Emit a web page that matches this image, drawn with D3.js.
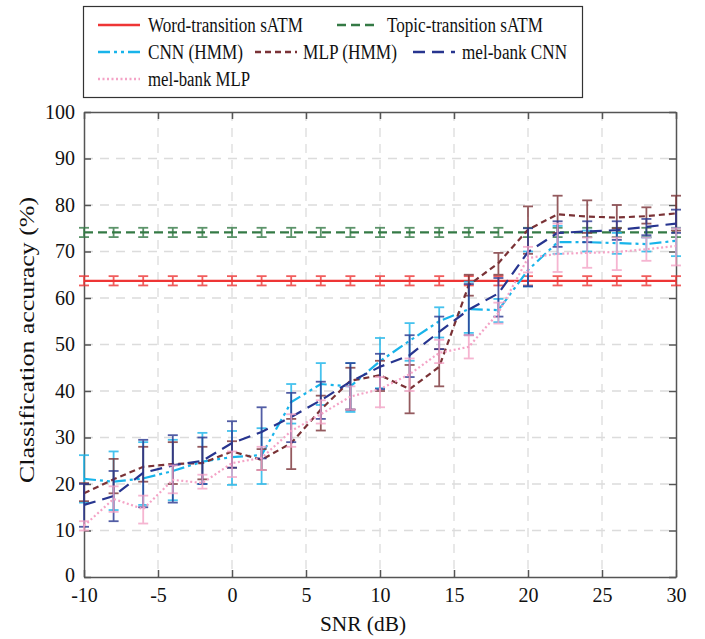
<!DOCTYPE html>
<html>
<head>
<meta charset="utf-8">
<script src="https://cdn.jsdelivr.net/npm/d3@7"></script>
<style>
  body { margin: 0; background: #fff; }
  svg { display: block; }
</style>
</head>
<body>
<svg id="chart" width="705" height="639"></svg>
<script>
// ---------------- DATA ----------------
const snr = [-10, -8, -6, -4, -2, 0, 2, 4, 6, 8, 10, 12, 14, 16, 18, 20, 22, 24, 26, 28, 30];

const wordT   = [63.7, 63.7, 63.7, 63.7, 63.7, 63.7, 63.7, 63.7, 63.7, 63.7, 63.7, 63.7, 63.7, 63.7, 63.7, 63.7, 63.7, 63.7, 63.7, 63.7, 63.7];
const wordTLo = [62.7, 62.7, 62.7, 62.7, 62.7, 62.7, 62.7, 62.7, 62.7, 62.7, 62.7, 62.7, 62.7, 62.7, 62.7, 62.7, 62.7, 62.7, 62.7, 62.7, 62.7];
const wordTHi = [64.7, 64.7, 64.7, 64.7, 64.7, 64.7, 64.7, 64.7, 64.7, 64.7, 64.7, 64.7, 64.7, 64.7, 64.7, 64.7, 64.7, 64.7, 64.7, 64.7, 64.7];

const topicT   = [74.1, 74.1, 74.1, 74.1, 74.1, 74.1, 74.1, 74.1, 74.1, 74.1, 74.1, 74.1, 74.1, 74.1, 74.1, 74.1, 74.1, 74.1, 74.1, 74.1, 74.1];
const topicTLo = [73.1, 73.1, 73.1, 73.1, 73.1, 73.1, 73.1, 73.1, 73.1, 73.1, 73.1, 73.1, 73.1, 73.1, 73.1, 73.1, 73.1, 73.1, 73.1, 73.1, 73.1];
const topicTHi = [75.1, 75.1, 75.1, 75.1, 75.1, 75.1, 75.1, 75.1, 75.1, 75.1, 75.1, 75.1, 75.1, 75.1, 75.1, 75.1, 75.1, 75.1, 75.1, 75.1, 75.1];

const cnnHmm   = [21.1, 20.5, 21.2, 22.8, 24.8, 25.8, 26.2, 37.6, 41.5, 41.0, 46.4, 50.8, 55.0, 57.6, 57.4, 66.0, 72.0, 72.0, 71.8, 71.6, 72.3];
const cnnHmmLo = [16.0, 14.4, 15.5, 16.5, 20.0, 19.8, 20.0, 33.0, 37.0, 35.5, 40.6, 46.5, 51.5, 52.5, 54.8, 62.5, 69.5, 70.0, 69.5, 70.0, 69.0];
const cnnHmmHi = [26.2, 27.0, 29.0, 29.5, 31.0, 31.4, 32.0, 41.5, 46.0, 46.0, 51.4, 54.6, 58.0, 63.5, 59.8, 70.0, 75.5, 74.5, 74.0, 73.0, 75.0];

const mlpHmm   = [18.0, 21.0, 23.7, 24.3, 24.5, 27.0, 25.2, 28.8, 36.0, 42.2, 43.4, 40.4, 45.2, 62.8, 67.5, 74.7, 78.0, 77.5, 77.3, 77.6, 78.2];
const mlpHmmLo = [16.3, 18.0, 20.5, 20.0, 21.0, 23.5, 23.0, 23.2, 31.5, 36.0, 40.0, 35.2, 41.0, 60.5, 65.0, 69.5, 74.0, 74.0, 75.0, 76.0, 74.5];
const mlpHmmHi = [20.2, 25.4, 28.0, 29.0, 28.0, 29.2, 27.5, 34.0, 39.0, 45.0, 46.5, 45.6, 49.0, 65.0, 69.7, 79.7, 82.0, 81.0, 80.0, 79.5, 82.0];

const melCnn   = [15.5, 17.4, 22.4, 24.0, 25.0, 28.8, 31.2, 34.4, 38.0, 42.0, 45.2, 47.7, 52.7, 57.5, 61.0, 69.9, 74.0, 74.3, 74.6, 75.3, 76.0];
const melCnnLo = [10.8, 12.0, 15.0, 16.0, 20.0, 23.5, 25.5, 29.0, 34.0, 36.0, 40.4, 43.0, 49.0, 52.0, 56.0, 62.5, 71.0, 72.0, 72.5, 73.5, 74.0];
const melCnnHi = [20.0, 22.8, 29.5, 30.5, 30.0, 33.5, 36.5, 39.6, 42.0, 46.0, 48.0, 52.0, 56.0, 63.0, 64.3, 75.0, 76.5, 76.5, 76.5, 77.0, 79.0];

const melMlp   = [11.0, 16.8, 14.6, 20.9, 20.2, 24.5, 25.6, 31.4, 35.0, 38.8, 40.4, 43.6, 48.2, 49.5, 56.8, 68.6, 69.5, 69.7, 69.9, 70.5, 71.2];
const melMlpLo = [10.0, 14.0, 11.5, 18.0, 19.0, 21.5, 23.0, 28.0, 33.0, 36.0, 36.5, 40.0, 46.0, 47.0, 54.5, 65.5, 65.6, 66.5, 66.0, 68.0, 67.0];
const melMlpHi = [12.0, 19.5, 17.5, 24.0, 22.0, 27.0, 28.0, 35.0, 38.0, 41.0, 43.0, 47.0, 51.0, 52.0, 59.0, 71.0, 76.0, 73.0, 73.0, 73.0, 75.0];

const xTicks = [-10, -5, 0, 5, 10, 15, 20, 25, 30];
const yTicks = [0, 10, 20, 30, 40, 50, 60, 70, 80, 90, 100];

const seriesNames = ["Word-transition sATM", "Topic-transition sATM", "CNN (HMM)", "MLP (HMM)", "mel-bank CNN", "mel-bank MLP"];

// ---------------- STYLE ----------------
const FONT = "'Liberation Serif', Tinos, 'Times New Roman', Times, 'Nimbus Roman', 'Nimbus Roman No9 L', FreeSerif, 'Noto Serif', 'DejaVu Serif', Georgia, serif";
const styles = [
  { color: "#ee3535", dash: null },
  { color: "#347a45", dash: "9,5" },
  { color: "#18b4ea", dash: "12,4,3,4,3,4" },
  { color: "#7a3236", dash: "6,4" },
  { color: "#27358f", dash: "12,7" },
  { color: "#f4a3c6", dash: "2,2.5" }
];
// legend text widths measured on the reference
const legWidths = [155, 156, 95, 94, 105, 102];

const series = [
  { v: wordT, lo: wordTLo, hi: wordTHi },
  { v: topicT, lo: topicTLo, hi: topicTHi },
  { v: cnnHmm, lo: cnnHmmLo, hi: cnnHmmHi },
  { v: mlpHmm, lo: mlpHmmLo, hi: mlpHmmHi },
  { v: melCnn, lo: melCnnLo, hi: melCnnHi },
  { v: melMlp, lo: melMlpLo, hi: melMlpHi }
].map((s, i) => Object.assign({ name: seriesNames[i] }, s, styles[i]));

// ---------------- LAYOUT ----------------
const svg = d3.select("#chart").attr("font-family", FONT);
const L = 84, R = 676, T = 112, B = 577;

const x = d3.scaleLinear().domain([-10, 30]).range([L, R]);
const y = d3.scaleLinear().domain([0, 100]).range([B, T]);

// grid
const grid = svg.append("g");
grid.selectAll(".gx").data(xTicks.slice(1, -1)).enter().append("line")
  .attr("x1", d => x(d)).attr("x2", d => x(d)).attr("y1", T).attr("y2", B)
  .attr("stroke", "#dcdcdc").attr("stroke-width", 1.3).attr("stroke-dasharray", "9,7");
grid.selectAll(".gy").data(yTicks.slice(1, -1)).enter().append("line")
  .attr("x1", L).attr("x2", R).attr("y1", d => y(d)).attr("y2", d => y(d))
  .attr("stroke", "#dcdcdc").attr("stroke-width", 1.3).attr("stroke-dasharray", "9,7");

// axes
const axisColor = "#555";
const fontSize = 20;
const fmt = d => String(d);
const gx = svg.append("g").attr("transform", `translate(0,${B})`)
  .call(d3.axisBottom(x).tickValues(xTicks).tickSizeInner(-7).tickSizeOuter(0).tickPadding(13).tickFormat(fmt));
const gxTop = svg.append("g").attr("transform", `translate(0,${T})`)
  .call(d3.axisTop(x).tickValues(xTicks).tickSizeInner(-7).tickSizeOuter(0).tickFormat(""));
const gy = svg.append("g").attr("transform", `translate(${L},0)`)
  .call(d3.axisLeft(y).tickValues(yTicks).tickSizeInner(-7).tickSizeOuter(0).tickPadding(12).tickFormat(fmt));
const gyR = svg.append("g").attr("transform", `translate(${R},0)`)
  .call(d3.axisRight(y).tickValues(yTicks).tickSizeInner(-7).tickSizeOuter(0).tickFormat(""));

[gx, gxTop, gy, gyR].forEach(g => {
  g.attr("font-family", FONT);
  g.select(".domain").attr("stroke", axisColor).attr("stroke-width", 1.5);
  g.selectAll(".tick line").attr("stroke", axisColor).attr("stroke-width", 1.5);
  g.selectAll("text").attr("font-family", FONT).attr("font-size", fontSize).attr("fill", "#111");
});
gy.selectAll(".tick text").attr("dx", "3");
gy.selectAll(".tick").filter(d => d === 0).select("text").attr("dy", "0.2em");
gx.selectAll(".tick text").attr("dy", "0.62em");

// axis titles
svg.append("text").attr("x", 320).attr("y", 631)
  .attr("font-size", 22).attr("fill", "#111")
  .attr("textLength", 86).attr("lengthAdjust", "spacingAndGlyphs").text("SNR (dB)");
svg.append("text").attr("transform", `translate(34,${340}) rotate(-90)`).attr("x", -143)
  .attr("font-size", 22).attr("fill", "#111")
  .attr("textLength", 286).attr("lengthAdjust", "spacingAndGlyphs").text("Classification accuracy (%)");

// series
const plot = svg.append("g");
const line = d3.line().x((d, i) => x(snr[i])).y(d => y(d));
const cap = 5;
series.forEach(s => {
  const g = plot.append("g");
  const eb = g.append("g").attr("opacity", 0.8);
  snr.forEach((xv, i) => {
    const px = x(xv), y1 = y(s.lo[i]), y2 = y(s.hi[i]);
    eb.append("line").attr("x1", px).attr("x2", px).attr("y1", y1).attr("y2", y2)
      .attr("stroke", s.color).attr("stroke-width", 1.8);
    eb.append("line").attr("x1", px - cap).attr("x2", px + cap).attr("y1", y1).attr("y2", y1)
      .attr("stroke", s.color).attr("stroke-width", 1.8);
    eb.append("line").attr("x1", px - cap).attr("x2", px + cap).attr("y1", y2).attr("y2", y2)
      .attr("stroke", s.color).attr("stroke-width", 1.8);
  });
  g.append("path").datum(s.v).attr("d", line).attr("fill", "none")
    .attr("stroke", s.color).attr("stroke-width", 2.2)
    .attr("stroke-dasharray", s.dash);
});

// legend
const lg = svg.append("g");
lg.append("rect").attr("x", 83.5).attr("y", 6.5).attr("width", 499).attr("height", 91)
  .attr("fill", "#fff").attr("stroke", "#333").attr("stroke-width", 1.2);
const legPos = [
  { lx: 98, ly: 25, tx: 148 }, { lx: 337, ly: 25, tx: 387 },
  { lx: 98, ly: 52, tx: 148 }, { lx: 255, ly: 52, tx: 303 }, { lx: 413, ly: 52, tx: 462 },
  { lx: 98, ly: 79, tx: 148 }
];
series.forEach((s, i) => {
  const p = legPos[i];
  lg.append("line").attr("x1", p.lx).attr("x2", p.lx + 42).attr("y1", p.ly).attr("y2", p.ly)
    .attr("stroke", s.color).attr("stroke-width", 2.5).attr("stroke-dasharray", s.dash);
  lg.append("text").attr("x", p.tx).attr("y", p.ly + 7).attr("font-size", 20).attr("fill", "#111")
    .attr("textLength", legWidths[i]).attr("lengthAdjust", "spacingAndGlyphs").text(s.name);
});
</script>
</body>
</html>
